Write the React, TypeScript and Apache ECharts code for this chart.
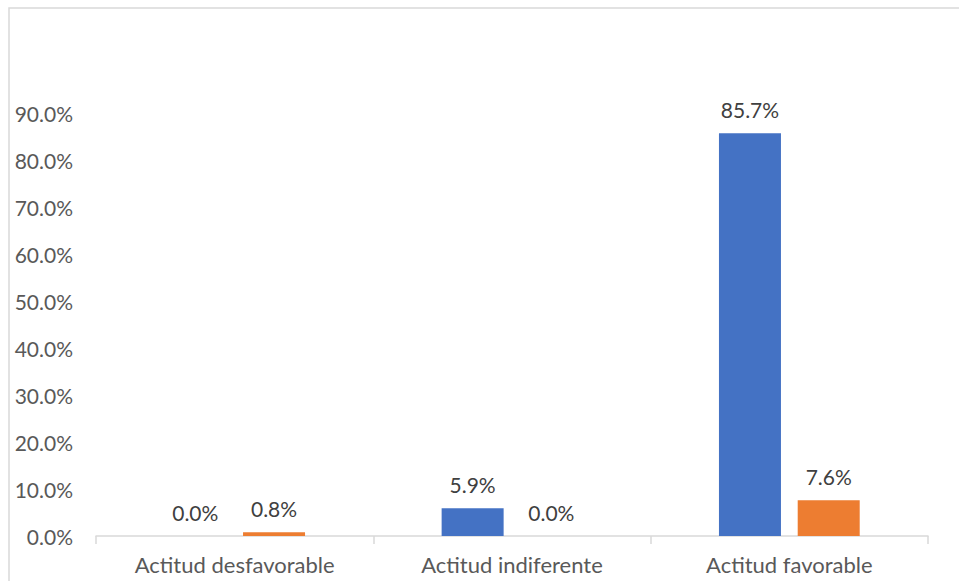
import React, { useEffect, useRef } from "react";
import * as echarts from "echarts";

const categories = ["Actitud desfavorable", "Actitud indiferente", "Actitud favorable"];
const seriesA = [0.0, 5.9, 85.7];
const seriesB = [0.8, 0.0, 7.6];
const yTicks = [0, 10, 20, 30, 40, 50, 60, 70, 80, 90];

const FONT = "Lato";
const FS = 21;

export default function App() {
  const ref = useRef<HTMLDivElement>(null);
  useEffect(() => {
    if (!ref.current) return;
    const chart = echarts.init(ref.current, undefined, { renderer: "svg" });
    const labelCfg = {
      show: true,
      position: "top" as const,
      distance: 13,
      color: "#404040",
      fontFamily: FONT,
      fontSize: FS,
      formatter: (p: any) => Number(p.value).toFixed(1) + "%",
    };
    chart.setOption({
      animation: false,
      backgroundColor: "#ffffff",
      graphic: [
        {
          type: "rect",
          shape: { x: 9, y: 8, width: 1200, height: 1000 },
          style: { fill: "none", stroke: "#d9d9d9", lineWidth: 1.5 },
          silent: true,
          z: -1,
        },
      ],
      grid: { left: 96, right: 31, top: 113, bottom: 45, containLabel: false },
      xAxis: {
        type: "category",
        data: categories,
        axisLine: { show: true, lineStyle: { color: "#d9d9d9", width: 1.5 } },
        axisTick: { show: true, length: 8, lineStyle: { color: "#d9d9d9", width: 1.5 } },
        axisLabel: { color: "#595959", fontFamily: FONT, fontSize: 22, margin: 17 },
      },
      yAxis: {
        type: "value",
        min: yTicks[0],
        max: yTicks[yTicks.length - 1],
        interval: 10,
        splitLine: { show: false },
        axisLine: { show: false },
        axisTick: { show: false },
        axisLabel: {
          color: "#595959",
          fontFamily: FONT,
          fontSize: FS,
          margin: 23,
          formatter: (v: number) => v.toFixed(1) + "%",
        },
      },
      series: [
        {
          type: "bar",
          data: seriesA,
          barWidth: 62,
          barGap: "27%",
          itemStyle: { color: "#4472c4" },
          label: labelCfg,
        },
        {
          type: "bar",
          data: seriesB,
          barWidth: 62,
          barGap: "27%",
          itemStyle: { color: "#ed7d31" },
          label: labelCfg,
        },
      ],
    });
    return () => chart.dispose();
  }, []);
  return (
    <div
      ref={ref}
      style={{ position: "fixed", left: 0, top: 0, width: 959, height: 581 }}
    />
  );
}
